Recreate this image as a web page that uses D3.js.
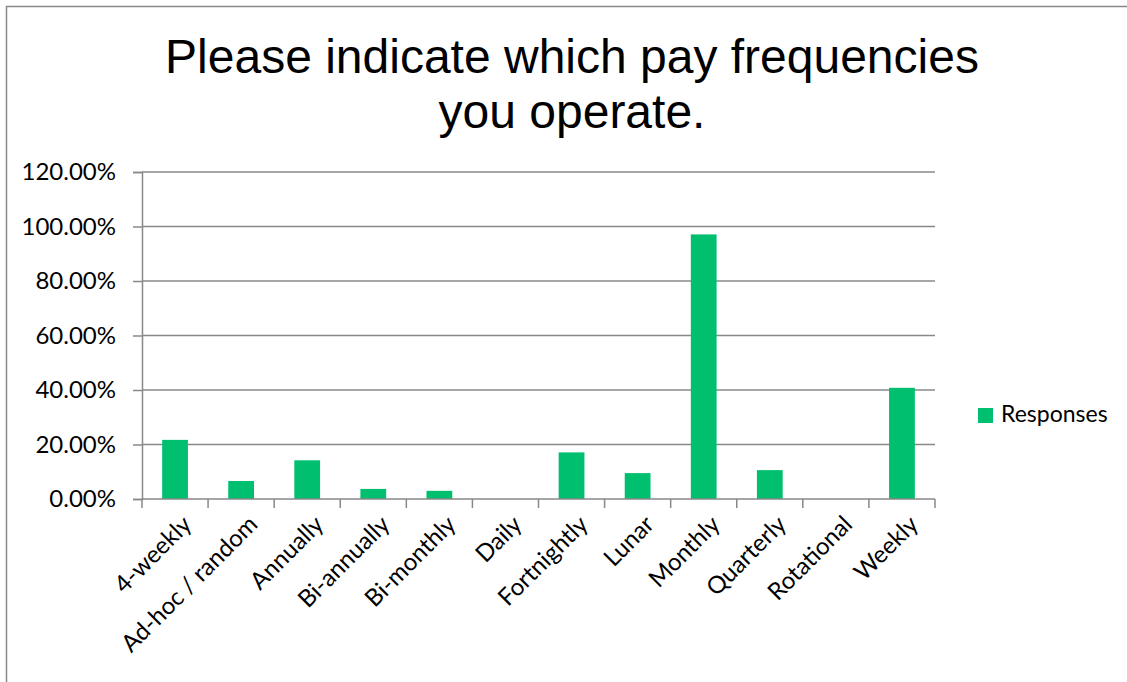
<!DOCTYPE html>
<html>
<head>
<meta charset="utf-8">
<script src="https://cdn.jsdelivr.net/npm/d3@7"></script>
<style>
  body { margin: 0; background: #fff; }
</style>
</head>
<body>
<svg id="chart" width="1127" height="682"></svg>
<script>
// data
const categories = ["4-weekly", "Ad-hoc / random", "Annually", "Bi-annually", "Bi-monthly", "Daily",
  "Fortnightly", "Lunar", "Monthly", "Quarterly", "Rotational", "Weekly"];
const responses = [0.217, 0.066, 0.142, 0.037, 0.030, 0, 0.171, 0.095, 0.971, 0.106, 0, 0.408];
const yTicks = [0, 0.2, 0.4, 0.6, 0.8, 1.0, 1.2];
const titleLines = ["Please indicate which pay frequencies", "you operate."];
const seriesName = "Responses";

const svg = d3.select("#chart");
const margin = { top: 172, right: 192, bottom: 183, left: 142 };
const width = 1127 - margin.left - margin.right;
const height = 682 - margin.top - margin.bottom;
const green = "#00bf6f";
const grey = "#888888";
const labelFont = "Lato, 'Open Sans', sans-serif";

// outer chart border (right / bottom run off the picture)
svg.append("rect")
  .attr("x", 6.5).attr("y", 6.5)
  .attr("width", 1140).attr("height", 700)
  .attr("fill", "none")
  .attr("stroke", grey)
  .attr("stroke-width", 1.5);

svg.append("g")
  .selectAll("text")
  .data(titleLines)
  .enter()
  .append("text")
  .attr("x", 572)
  .attr("y", (d, i) => 73 + i * 55)
  .attr("text-anchor", "middle")
  .attr("font-family", "'Liberation Sans', Arial, sans-serif")
  .attr("font-size", 48)
  .attr("fill", "#000")
  .text((d) => d);

const g = svg.append("g").attr("transform", `translate(${margin.left},${margin.top})`);

const x = d3.scaleBand().domain(categories).range([0, width]).paddingInner(0.61).paddingOuter(0.305);
const xTick = d3.scaleBand().domain(categories).range([0, width]);
const y = d3.scaleLinear().domain([0, 1.2]).range([height, 0]);

// gridlines
g.selectAll(".grid")
  .data(yTicks.slice(1))
  .enter()
  .append("line")
  .attr("x1", 0).attr("x2", width)
  .attr("y1", (d) => y(d)).attr("y2", (d) => y(d))
  .attr("stroke", grey)
  .attr("stroke-width", 1.5);

// y axis
const yAxis = g.append("g")
  .call(d3.axisLeft(y).tickValues(yTicks).tickFormat(d3.format(".2%")).tickSize(9).tickPadding(17));
yAxis.select(".domain").attr("stroke", grey).attr("stroke-width", 1.5);
yAxis.selectAll(".tick line").attr("stroke", grey).attr("stroke-width", 1.5);
yAxis.selectAll("text")
  .attr("font-family", labelFont)
  .attr("font-size", 24)
  .attr("fill", "#000");

// bars
g.selectAll(".bar")
  .data(responses)
  .enter()
  .append("rect")
  .attr("class", "bar")
  .attr("x", (d, i) => x(categories[i]))
  .attr("y", (d) => y(d))
  .attr("width", x.bandwidth())
  .attr("height", (d) => height - y(d))
  .attr("fill", green);

// x axis with ticks at category boundaries
const bounds = categories.map((c) => xTick(c)).concat([width]);
const xAxis = g.append("g").attr("transform", `translate(0,${height})`);
xAxis.append("line")
  .attr("x1", 0).attr("x2", width)
  .attr("stroke", grey).attr("stroke-width", 1.5);
xAxis.selectAll(".xt")
  .data(bounds)
  .enter()
  .append("line")
  .attr("x1", (d) => d).attr("x2", (d) => d)
  .attr("y1", 0).attr("y2", 9)
  .attr("stroke", grey).attr("stroke-width", 1.5);
xAxis.selectAll(".xl")
  .data(categories)
  .enter()
  .append("text")
  .attr("transform", (d) => `translate(${xTick(d) + xTick.bandwidth() / 2 + 6},${15}) rotate(-45)`)
  .attr("text-anchor", "end")
  .attr("dy", "0.7em")
  .attr("font-family", labelFont)
  .attr("font-size", 24)
  .attr("fill", "#000")
  .text((d) => d);

// legend
const legend = svg.append("g").attr("transform", "translate(978,408)");
legend.append("rect").attr("width", 15).attr("height", 15).attr("fill", green);
legend.append("text")
  .attr("x", 23).attr("y", 14)
  .attr("font-family", labelFont)
  .attr("font-size", 23)
  .attr("fill", "#000")
  .text(seriesName);
</script>
</body>
</html>
